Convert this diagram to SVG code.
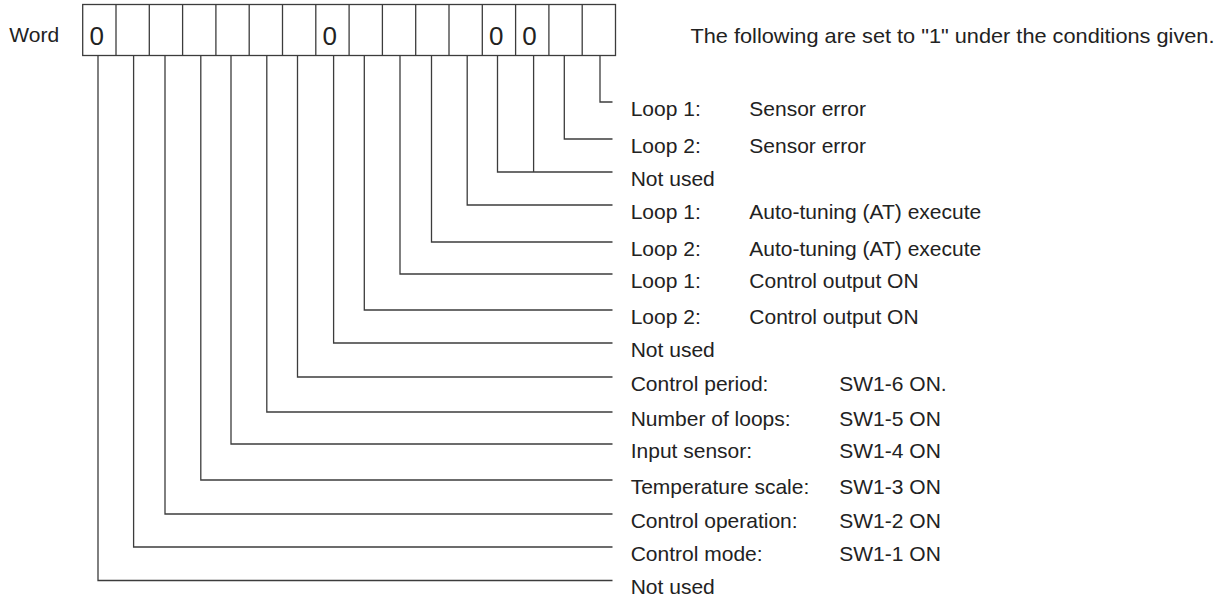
<svg xmlns="http://www.w3.org/2000/svg" width="1226" height="596" viewBox="0 0 1226 596">
<style>
text{font-family:"Liberation Sans",Arial,sans-serif;font-size:21px;fill:#222}
.d{font-size:26px}
.c line,.c polyline,.box rect,.box line{stroke:#3c3c3c;stroke-width:1.3;fill:none}
</style>
<rect width="1226" height="596" fill="#fff"/>
<g id="word-label"><text x="9.3" y="41.7">Word</text></g>
<g id="word-box" class="box">
<rect x="82.7" y="4.5" width="532.8" height="51"/>
<line x1="116" y1="4.5" x2="116" y2="55.5"/>
<line x1="149.3" y1="4.5" x2="149.3" y2="55.5"/>
<line x1="182.6" y1="4.5" x2="182.6" y2="55.5"/>
<line x1="215.9" y1="4.5" x2="215.9" y2="55.5"/>
<line x1="249.2" y1="4.5" x2="249.2" y2="55.5"/>
<line x1="282.5" y1="4.5" x2="282.5" y2="55.5"/>
<line x1="315.8" y1="4.5" x2="315.8" y2="55.5"/>
<line x1="349.1" y1="4.5" x2="349.1" y2="55.5"/>
<line x1="382.4" y1="4.5" x2="382.4" y2="55.5"/>
<line x1="415.7" y1="4.5" x2="415.7" y2="55.5"/>
<line x1="449" y1="4.5" x2="449" y2="55.5"/>
<line x1="482.3" y1="4.5" x2="482.3" y2="55.5"/>
<line x1="515.6" y1="4.5" x2="515.6" y2="55.5"/>
<line x1="548.9" y1="4.5" x2="548.9" y2="55.5"/>
<line x1="582.2" y1="4.5" x2="582.2" y2="55.5"/>
<text class="d" x="89.4" y="45">0</text>
<text class="d" x="322.5" y="45">0</text>
<text class="d" x="489" y="45">0</text>
<text class="d" x="522.3" y="45">0</text>
</g>
<g id="header"><text x="690.5" y="43.3" textLength="524" lengthAdjust="spacingAndGlyphs">The following are set to "1" under the conditions given.</text></g>
<g id="connectors" class="c">
<polyline points="600,55.5 600,102 612.5,102"/>
<polyline points="564.3,55.5 564.3,139 612.5,139"/>
<polyline points="497.5,55.5 497.5,172 612.5,172"/>
<line x1="533.6" y1="55.5" x2="533.6" y2="172"/>
<polyline points="467.2,55.5 467.2,205 612.5,205"/>
<polyline points="431.5,55.5 431.5,242 612.5,242"/>
<polyline points="400,55.5 400,274 612.5,274"/>
<polyline points="364.3,55.5 364.3,310 612.5,310"/>
<polyline points="333.6,55.5 333.6,343 612.5,343"/>
<polyline points="297.5,55.5 297.5,377 612.5,377"/>
<polyline points="266.8,55.5 266.8,412 612.5,412"/>
<polyline points="231,55.5 231,444 612.5,444"/>
<polyline points="200.8,55.5 200.8,480 612.5,480"/>
<polyline points="165,55.5 165,514 612.5,514"/>
<polyline points="133.6,55.5 133.6,547 612.5,547"/>
<polyline points="98,55.5 98,580.5 612.5,580.5"/>
</g>
<g id="bit0"><text x="630.7" y="115.5">Loop 1:</text><text x="749.3" y="115.5">Sensor error</text></g>
<g id="bit1"><text x="630.7" y="152.5">Loop 2:</text><text x="749.3" y="152.5">Sensor error</text></g>
<g id="bit2-3"><text x="630.7" y="185.5">Not used</text></g>
<g id="bit4"><text x="630.7" y="218.5">Loop 1:</text><text x="749.3" y="218.5">Auto-tuning (AT) execute</text></g>
<g id="bit5"><text x="630.7" y="255.5">Loop 2:</text><text x="749.3" y="255.5">Auto-tuning (AT) execute</text></g>
<g id="bit6"><text x="630.7" y="287.5">Loop 1:</text><text x="749.3" y="287.5">Control output ON</text></g>
<g id="bit7"><text x="630.7" y="323.5">Loop 2:</text><text x="749.3" y="323.5">Control output ON</text></g>
<g id="bit8"><text x="630.7" y="356.5">Not used</text></g>
<g id="bit9"><text x="630.7" y="390.5">Control period:</text><text x="839.3" y="390.5">SW1-6 ON.</text></g>
<g id="bit10"><text x="630.7" y="425.5">Number of loops:</text><text x="839.3" y="425.5">SW1-5 ON</text></g>
<g id="bit11"><text x="630.7" y="457.5">Input sensor:</text><text x="839.3" y="457.5">SW1-4 ON</text></g>
<g id="bit12"><text x="630.7" y="493.5">Temperature scale:</text><text x="839.3" y="493.5">SW1-3 ON</text></g>
<g id="bit13"><text x="630.7" y="527.5">Control operation:</text><text x="839.3" y="527.5">SW1-2 ON</text></g>
<g id="bit14"><text x="630.7" y="560.5">Control mode:</text><text x="839.3" y="560.5">SW1-1 ON</text></g>
<g id="bit15"><text x="630.7" y="593.5">Not used</text></g>
</svg>
